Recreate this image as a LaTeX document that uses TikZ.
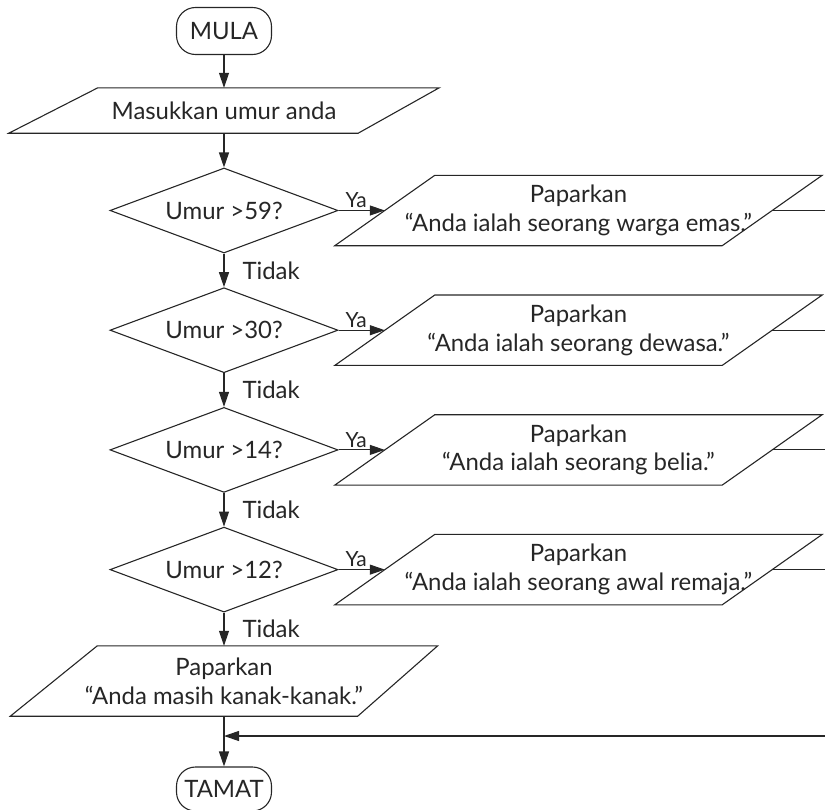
\documentclass[tikz,border=0pt]{standalone}
\usepackage{fontspec}
\setmainfont{Lato}
\usetikzlibrary{shapes.geometric,calc,arrows.meta}

\begin{document}
\begin{tikzpicture}[x=1bp,y=-1bp,
  every node/.style={font=\fontsize{24}{29}\selectfont, text=black!85},
  flowline/.style={line width=1.1bp, draw=black!85},
  flowarrow/.style={flowline, -{Triangle[length=15bp,width=10bp]}},
  terminal/.style={flowline, rounded corners=19bp, minimum width=95bp,
    minimum height=47bp, inner sep=0pt},
  decision/.style={flowline, diamond, aspect=2.68, minimum width=228bp,
    minimum height=85bp, inner sep=0pt},
  iobox/.style={minimum width=#1, minimum height=70bp, inner sep=0pt, align=center},
  yalabel/.style={above, pos=0.38, inner sep=2bp, font=\fontsize{21}{24}\selectfont},
  nolabel/.style={right, xshift=18bp, inner sep=0pt},
]
\useasboundingbox (0,0) rectangle (825,810);

% start
\node[terminal] (start) at (224,31) {MULA};

% input: parallelogram drawn around an invisible text box
\node[iobox=430bp, minimum height=45bp] (input) at (224,110.5) {Masukkan umur anda};
\draw[flowline] (input.south west) -- ($(input.north west)+(89,0)$)
  -- (input.north east) -- ($(input.south east)+(-81,0)$) -- cycle;

% decisions
\node[decision] (d1) at (224,210.5) {Umur >59?};
\node[decision] (d2) at (224,330.2) {Umur >30?};
\node[decision] (d3) at (224,449.9) {Umur >14?};
\node[decision] (d4) at (224,569.6) {Umur >12?};

% outputs for each "Ya" branch
\node[iobox=487bp] (o1) at (578.5,210.5) {Paparkan\\“Anda ialah seorang warga emas.”};
\node[iobox=487bp] (o2) at (578.5,330.2) {Paparkan\\“Anda ialah seorang dewasa.”};
\node[iobox=487bp] (o3) at (578.5,449.9) {Paparkan\\“Anda ialah seorang belia.”};
\node[iobox=487bp] (o4) at (578.5,569.6) {Paparkan\\“Anda ialah seorang awal remaja.”};

\foreach \o in {o1,o2,o3,o4}{
  \draw[flowline] (\o.south west) -- ($(\o.north west)+(100,0)$)
    -- (\o.north east) -- ($(\o.south east)+(-100,0)$) -- cycle;
}

% final output for the "Tidak" branch
\node[iobox=427bp] (fin) at (224,681) {Paparkan\\“Anda masih kanak-kanak.”};
\draw[flowline] (fin.south west) -- ($(fin.north west)+(87,0)$)
  -- (fin.north east) -- ($(fin.south east)+(-80,0)$) -- cycle;

% end
\node[terminal, minimum height=44bp] (end) at (224,789) {TAMAT};

% main flow
\draw[flowarrow] (start) -- (input);
\draw[flowarrow] (input) -- (d1);
\draw[flowarrow] (d1.south) -- node[nolabel] {Tidak} (d2.north);
\draw[flowarrow] (d2.south) -- node[nolabel] {Tidak} (d3.north);
\draw[flowarrow] (d3.south) -- node[nolabel] {Tidak} (d4.north);
\draw[flowarrow] (d4.south) -- node[nolabel] {Tidak} (fin.north);
\draw[flowarrow] (fin.south) -- (end.north);

% "Ya" branches and their exits to the return rail
\foreach \d/\o/\y in {d1/o1/210.5, d2/o2/330.2, d3/o3/449.9, d4/o4/569.6}{
  \draw[flowarrow] (\d.east) -- node[yalabel] {Ya} ($(\o.west)+(50,0)$);
  \coordinate (exit-\o) at (825,\y);
  \draw[flowline] ($(\o.east)+(-50,0)$) -- (exit-\o);
}

% return rail joining the main flow
\coordinate (rail) at (825,736);
\coordinate (join) at (224,736);
\draw[flowarrow] (rail) -- (join);
\end{tikzpicture}
\end{document}
